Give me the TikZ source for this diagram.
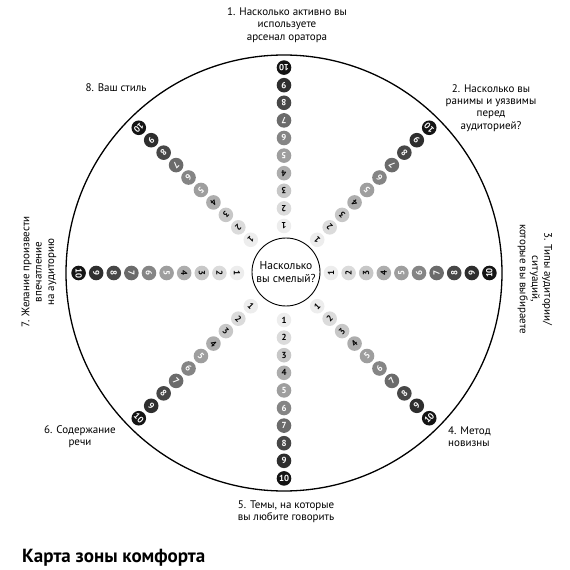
\documentclass[tikz,border=0pt]{standalone}
\usepackage{fontspec}
\setmainfont{PT Sans}
\usetikzlibrary{positioning}

\begin{document}
\begin{tikzpicture}[x=1pt,y=1pt]
    \useasboundingbox (-284,-297) rectangle (286,273);
    \tikzstyle{lbl} = [draw=none, font=\fontsize{11}{12.3}\selectfont, align=center, inner sep=0pt];
    \tikzstyle{ball} = [circle, draw=none, minimum size=14.6pt, inner sep=0pt];
    \tikzstyle{digit} = [inner sep=0pt, font=\fontsize{8.8}{9}\selectfont\bfseries];
    \node[draw, circle, line width=1.3pt, minimum size=436pt] at (0,0) (rim) {};
    \node[lbl, draw, circle, line width=0.9pt, minimum size=68pt, font=\fontsize{11.5}{12.5}\selectfont] at (2,1) (center) {Насколько\\вы смелый?};
    \foreach \ang [count=\r] in {90,45,0,-45,-90,-135,180,135} {
        \foreach \k/\shade/\txt in {1/7/black,2/14/black,3/22/black,4/32/black,5/38/white,
                                    6/48/white,7/58/white,8/72/white,9/82/white,10/92/white} {
            \pgfmathsetmacro\dist{47+17.6*(\k-1)}
            \node[ball, fill=black!\shade] at (\ang:\dist) (r\r-\k) {};
            \node[digit, text=\txt, rotate=\ang+90] at (r\r-\k) {\k};
        }
    }
    \node[lbl] at (3,248) (q1) {1. Насколько активно вы\\используете\\арсенал оратора};
    \node[lbl] at (207,165) (q2) {2. Насколько вы\\ранимы и уязвимы\\перед\\аудиторией?};
    \node[lbl, rotate=-90] at (251,-6) (q3) {3. Типы аудитории/\\ситуаций,\\которые вы выбираете};
    \node[lbl, anchor=west, align=left] at (164,-164) (q4) {4. Метод\\новизны};
    \node[lbl] at (2,-239) (q5) {5. Темы, на которые\\вы любите говорить};
    \node[lbl] at (-204,-164) (q6) {6. Содержание\\речи};
    \node[lbl, rotate=90] at (-245,1) (q7) {7. Желание произвести\\впечатление\\на аудиторию};
    \node[lbl] at (-168,185) (q8) {8. Ваш стиль};
    \node[lbl, anchor=west, font=\fontsize{19}{21}\selectfont\bfseries] at (-262,-285) (title) {Карта зоны комфорта};
\end{tikzpicture}
\end{document}
